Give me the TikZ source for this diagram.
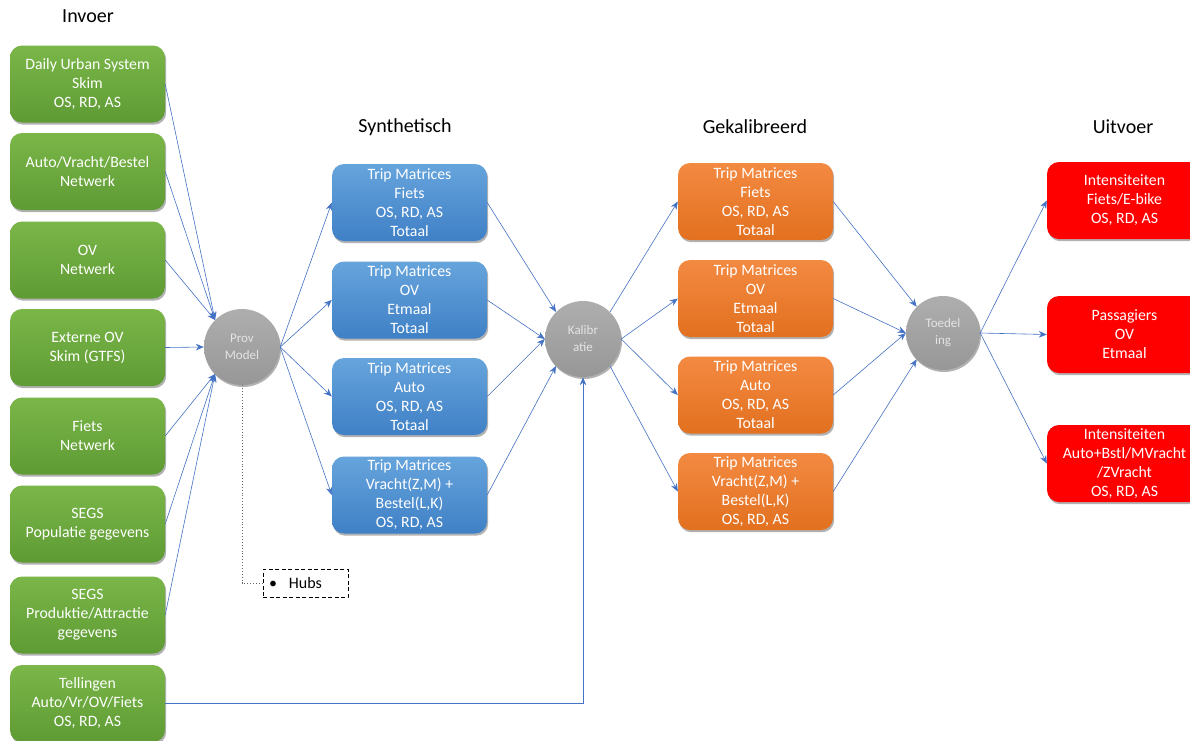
\documentclass[tikz,border=0pt]{standalone}
\usepackage{fontspec}
\setmainfont{Carlito}
\usetikzlibrary{arrows.meta,shadows,calc}
\definecolor{grnTop}{HTML}{7AB648}
\definecolor{grnBot}{HTML}{5E9B34}
\definecolor{bluTop}{HTML}{66A4DC}
\definecolor{bluBot}{HTML}{3F80C6}
\definecolor{orgTop}{HTML}{F38A42}
\definecolor{orgBot}{HTML}{E2701F}
\definecolor{redBox}{HTML}{FF0000}
\definecolor{circTop}{HTML}{AEAEAE}
\definecolor{circBot}{HTML}{979797}
\definecolor{circText}{HTML}{E4E4E4}
\definecolor{arrBlue}{HTML}{4472C4}
\tikzset{
  boxbase/.style={rounded corners=12pt, minimum width=155pt, minimum height=77pt,
    text=white, align=center, inner sep=0pt, font=\fontsize{15.8}{19}\selectfont,
    drop shadow={shadow xshift=1.2pt, shadow yshift=-2.2pt, opacity=0.3, fill=black}},
  gbox/.style={boxbase, top color=grnTop, bottom color=grnBot},
  bbox/.style={boxbase, top color=bluTop, bottom color=bluBot},
  obox/.style={boxbase, top color=orgTop, bottom color=orgBot},
  rbox/.style={boxbase, fill=redBox},
  circnode/.style={circle, minimum size=76pt, inner sep=0pt, top color=circTop, bottom color=circBot,
    text=circText, align=center, font=\fontsize{13}{17}\selectfont,
    drop shadow={shadow xshift=1pt, shadow yshift=-2pt, opacity=0.3, fill=black}},
  ttl/.style={font=\fontsize{20}{22}\selectfont, text=black},
  arr/.style={draw=arrBlue, line width=0.6pt, -{Stealth[length=8pt,width=6.5pt]}},
  hubbox/.style={draw=black, line width=0.9pt, dash pattern=on 4pt off 2.5pt,
    minimum height=28pt, text width=73pt, inner xsep=6pt, align=left,
    font=\fontsize{16}{17}\selectfont}
}
\begin{document}
\begin{tikzpicture}[x=1pt,y=-1pt]
\clip (0,0) rectangle (1190,740);
\fill[white] (0,0) rectangle (1190,740);

% titles
\node[ttl] (tInv) at (88,16) {Invoer};
\node[ttl] (tSyn) at (405,127) {Synthetisch};
\node[ttl] (tGek) at (755,127) {Gekalibreerd};
\node[ttl] (tUit) at (1123,127) {Uitvoer};

% input boxes
\node[gbox] (g1) at (87.5,84) {Daily Urban System\\Skim\\OS, RD, AS};
\node[gbox] (g2) at (87.5,171.5) {Auto/Vracht/Bestel\\Netwerk};
\node[gbox] (g3) at (87.5,260) {OV\\Netwerk};
\node[gbox] (g4) at (87.5,347.5) {Externe OV\\Skim (GTFS)};
\node[gbox] (g5) at (87.5,436) {Fiets\\Netwerk};
\node[gbox] (g6) at (87.5,524) {SEGS\\Populatie gegevens};
\node[gbox] (g7) at (87.5,615) {SEGS\\Produktie/Attractie\\gegevens};
\node[gbox] (g8) at (87.5,703.5) {Tellingen\\Auto/Vr/OV/Fiets\\OS, RD, AS};

% circles
\node[circnode] (prov) at (242,347) {Prov\\Model};
\node[circnode] (kal) at (583,339) {Kalibr\\atie};
\node[circnode, minimum size=74pt] (toed) at (943,333) {Toedel\\ing};

% synthetic
\node[bbox] (b1) at (409.5,202.5) {Trip Matrices\\Fiets\\OS, RD, AS\\Totaal};
\node[bbox] (b2) at (409.5,300) {Trip Matrices\\OV\\Etmaal\\Totaal};
\node[bbox] (b3) at (409.5,396.5) {Trip Matrices\\Auto\\OS, RD, AS\\Totaal};
\node[bbox] (b4) at (409.5,495) {Trip Matrices\\Vracht(Z,M) +\\Bestel(L,K)\\OS, RD, AS};

% calibrated
\node[obox] (o1) at (755.5,201.5) {Trip Matrices\\Fiets\\OS, RD, AS\\Totaal};
\node[obox] (o2) at (755.5,298.5) {Trip Matrices\\OV\\Etmaal\\Totaal};
\node[obox] (o3) at (755.5,395) {Trip Matrices\\Auto\\OS, RD, AS\\Totaal};
\node[obox] (o4) at (755.5,491.5) {Trip Matrices\\Vracht(Z,M) +\\Bestel(L,K)\\OS, RD, AS};

% output
\node[rbox] (r1) at (1124.5,200.5) {Intensiteiten\\Fiets/E-bike\\OS, RD, AS};
\node[rbox] (r2) at (1124.5,334.5) {Passagiers\\OV\\Etmaal};
\node[rbox] (r3) at (1124.5,463.5) {Intensiteiten\\Auto+Bstl/MVracht\\/ZVracht\\OS, RD, AS};

% hubs
\node[hubbox] (hubs) at (305.5,583) {\textbullet\hspace{12pt}Hubs};

% connectors into prov
\draw[arr] (g1.east) -- (prov.north west);
\draw[arr] (g2.east) -- (prov.north west);
\draw[arr] (g3.east) -- (prov.north west);
\draw[arr] (g4.east) -- (prov.west);
\draw[arr] (g5.east) -- (prov.south west);
\draw[arr] (g6.east) -- (prov.south west);
\draw[arr] (g7.east) -- (prov.south west);

% prov to synthetic
\foreach \b in {b1,b2,b3,b4} { \draw[arr] (prov.east) -- (\b.west); }

% synthetic to kal
\draw[arr] (b1.east) -- (kal.north west);
\draw[arr] (b2.east) -- (kal.west);
\draw[arr] (b3.east) -- (kal.west);
\draw[arr] (b4.east) -- (kal.south west);
\draw[arr] (g8.east) -| (kal.south);

% kal to calibrated
\draw[arr] (kal.north east) -- (o1.west);
\draw[arr] (kal.east) -- (o2.west);
\draw[arr] (kal.east) -- (o3.west);
\draw[arr] (kal.south east) -- (o4.west);

% calibrated to toed
\draw[arr] (o1.east) -- (toed.north west);
\draw[arr] (o2.east) -- (toed.west);
\draw[arr] (o3.east) -- (toed.west);
\draw[arr] (o4.east) -- (toed.south west);

% toed to output
\foreach \r in {r1,r2,r3} { \draw[arr] (toed.east) -- (\r.west); }

% dotted to hubs
\draw[dotted, draw=black!60, line width=0.9pt] (prov.south) |- (hubs.west);
\end{tikzpicture}
\end{document}
